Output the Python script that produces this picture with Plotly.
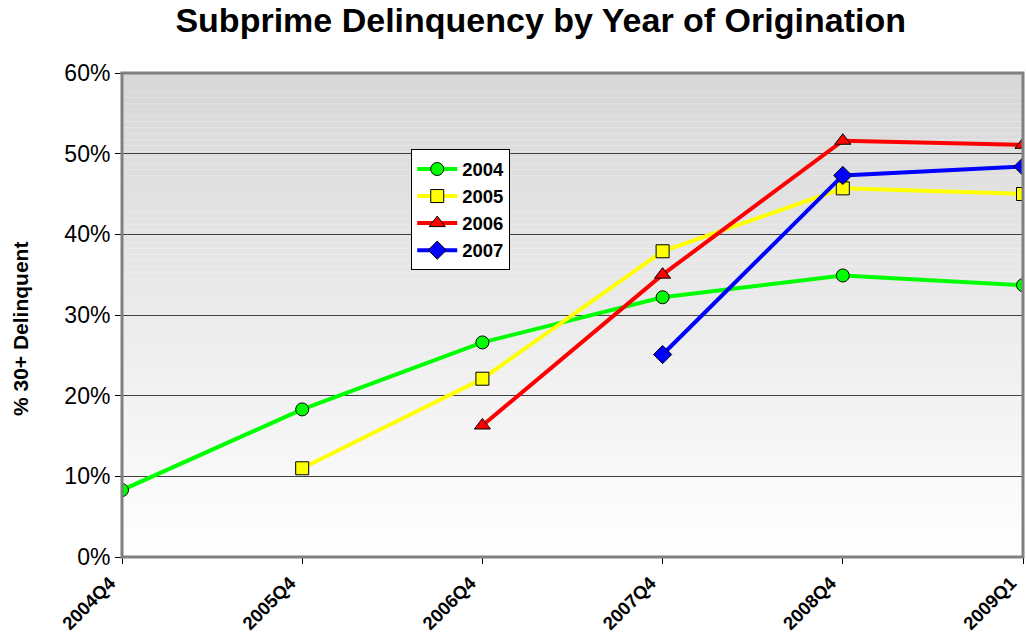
import plotly.graph_objects as go

quarters = ["2004Q4", "2005Q4", "2006Q4", "2007Q4", "2008Q4", "2009Q1"]
v2004 = [8.3, 18.3, 26.6, 32.2, 34.9, 33.7]
v2005 = [None, 11.0, 22.1, 37.9, 45.7, 45.0]
v2006 = [None, None, 16.3, 35.0, 51.6, 51.1]
v2007 = [None, None, None, 25.1, 47.3, 48.4]
ytick_vals = [0, 10, 20, 30, 40, 50, 60]
ytick_text = ["0%", "10%", "20%", "30%", "40%", "50%", "60%"]

series = [
    ("2004", v2004, "#00ff00", "circle", 13),
    ("2005", v2005, "#ffff00", "square", 13),
    ("2006", v2006, "#ff0000", "triangle-up", 14),
    ("2007", v2007, "#0000ff", "diamond", 14),
]

FONT = "Liberation Sans, Arial"
fig = go.Figure()
for name, vals, color, sym, sz in series:
    fig.add_trace(go.Scatter(
        x=quarters, y=vals, name=f"<b>{name}</b>", mode="lines+markers",
        line=dict(color=color, width=4),
        marker=dict(symbol=sym, size=sz, color=color, line=dict(color="black", width=1)),
        connectgaps=False,
    ))

# gradient background
shapes = []
n = 80
for i in range(n):
    t = i / (n - 1)
    c = int(round(255 - (255 - 215) * t))
    shapes.append(dict(type="rect", xref="x domain", yref="y domain",
                       x0=0, x1=1, y0=i / n, y1=(i + 1) / n,
                       fillcolor=f"rgb({c},{c},{c})", line=dict(width=0), layer="below"))
# plot border
shapes.append(dict(type="rect", xref="x domain", yref="y domain", x0=0, x1=1, y0=0, y1=1,
                   line=dict(color="#808080", width=3), layer="above"))

fig.update_layout(
    width=1026, height=639,
    margin=dict(l=122, r=3, t=73, b=82, autoexpand=False),
    paper_bgcolor="white", plot_bgcolor="rgba(0,0,0,0)",
    shapes=shapes,
    title=dict(text="<b>Subprime Delinquency by Year of Origination</b>",
               x=0.527, xanchor="center", y=0.968, yanchor="middle",
               font=dict(family=FONT, size=34, color="black")),
    font=dict(family=FONT, color="black"),
    legend=dict(x=0.321, y=0.842, xanchor="left", yanchor="top",
                bgcolor="white", bordercolor="black", borderwidth=1,
                font=dict(size=18.5, family=FONT, color="black"),
                itemwidth=40),
    showlegend=True,
    annotations=[dict(text="<b>% 30+ Delinquent</b>", xref="paper", yref="paper",
                      x=-0.1132, y=0.471, xanchor="center", yanchor="middle",
                      textangle=-90, showarrow=False,
                      font=dict(size=21, family=FONT, color="black"))],
)
fig.update_xaxes(
    type="category", range=[0, 5], showgrid=False, showline=False, automargin=False,
    ticks="outside", ticklen=6, tickcolor="black",
    tickangle=-45, tickfont=dict(size=18.5, family=FONT, color="black"),
    tickprefix="<b>", ticksuffix="</b>",
    ticklabelshift=-12, ticklabelstandoff=1,
)
fig.update_yaxes(
    range=[0, 60], tickvals=ytick_vals, ticktext=ytick_text, automargin=False,
    showgrid=True, gridcolor="#404040", gridwidth=1,
    ticks="outside", ticklen=6, tickcolor="black",
    tickfont=dict(size=23, family=FONT, color="black"),
    zeroline=False, showline=False,
)
fig.write_html("out.html", config={"displayModeBar": False},
               post_script="document.body.style.margin='0';")
